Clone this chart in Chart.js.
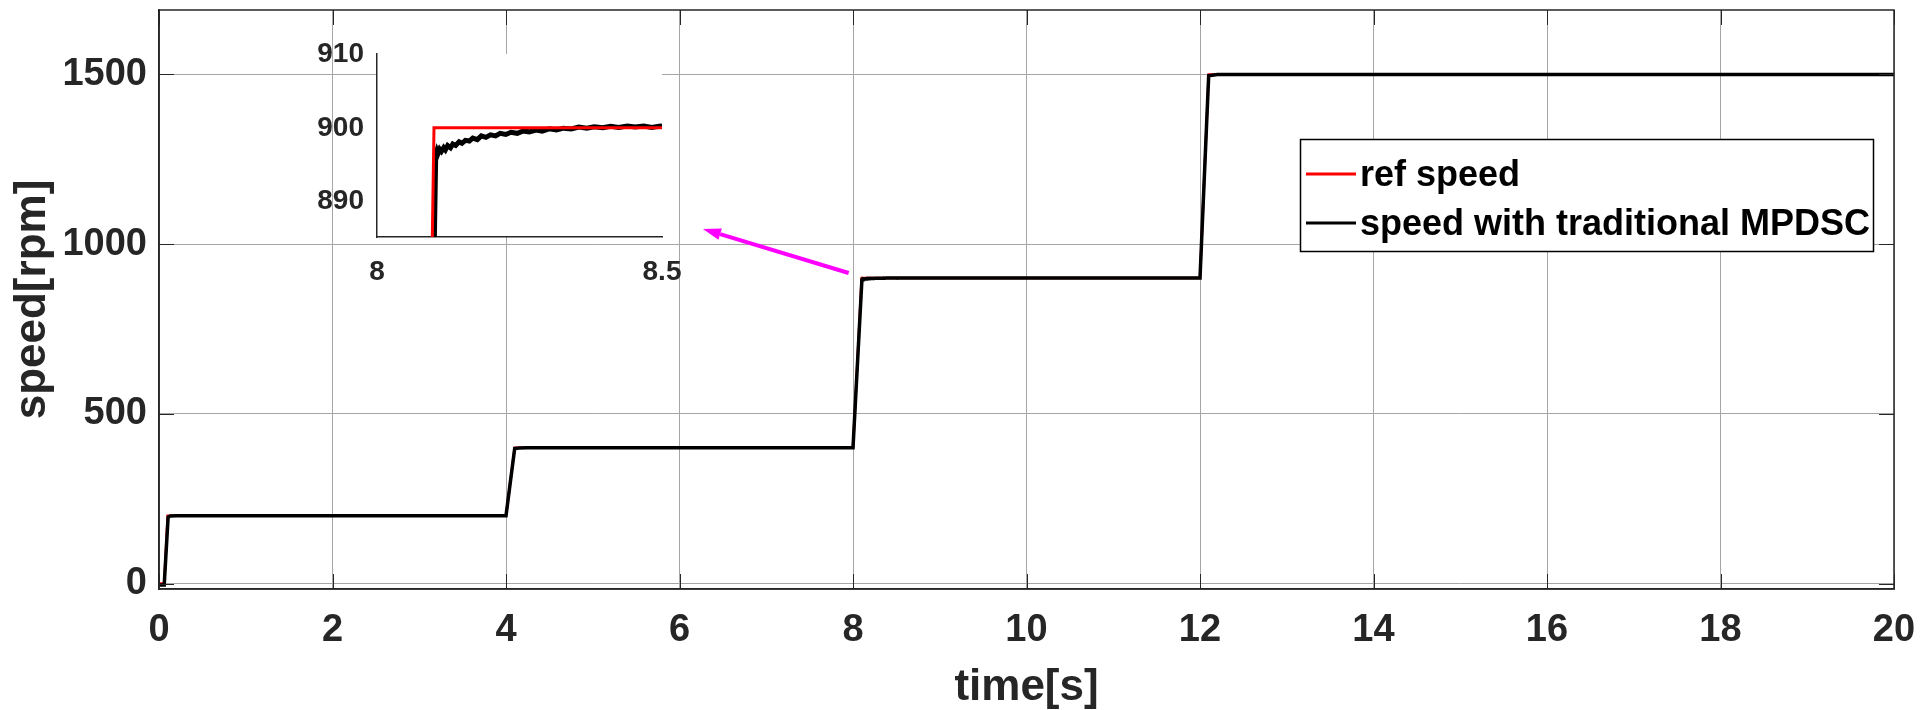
<!DOCTYPE html>
<html><head><meta charset="utf-8">
<script src="https://cdn.jsdelivr.net/npm/chart.js@4.4.0/dist/chart.umd.min.js"></script>
<style>
html,body{margin:0;padding:0;background:#fff;}
#wrap{position:relative;width:1920px;height:710px;overflow:hidden;}
#main{position:absolute;left:0;top:0;}
#inset{position:absolute;left:290px;top:30px;}
</style></head><body>
<div id="wrap"><canvas id="main" width="1920" height="710"></canvas><canvas id="inset" width="420" height="260"></canvas></div>
<script>
// ---- data ----
const refTime  = [0, 0.06, 0.1, 4.0, 4.1, 8.0, 8.1, 12.0, 12.1, 20];
const refSpeed = [0, 0, 200, 200, 400, 400, 900, 900, 1500, 1500];

const mpdscTime = [0, 0.06, 0.105, 0.13, 0.2, 4.0, 4.1, 4.15, 4.25, 8.0,
  8.103, 8.105, 8.107, 8.110, 8.113, 8.117, 8.120, 8.124, 8.129, 8.133,
  8.138, 8.144, 8.149, 8.155, 8.162, 8.168, 8.176, 8.183, 8.191, 8.199,
  8.208, 8.216, 8.226, 8.235, 8.246, 8.256, 8.267, 8.279, 8.290, 8.302,
  8.315, 8.327, 8.341, 8.354, 8.368, 8.381, 8.396, 8.410, 8.424, 8.439,
  8.453, 8.468, 8.482, 8.497, 8.5,
  12.0, 12.1, 12.2, 20];
const mpdscSpeed = [-4, -4, 196, 199, 200, 200, 398, 399.5, 400, 400,
  896.4, 896.9, 896.5, 897.1, 896.8, 897.3, 897.0, 897.6, 897.3, 897.8,
  897.6, 898.1, 897.9, 898.3, 898.2, 898.6, 898.4, 898.9, 898.7, 899.05,
  898.9, 899.25, 899.1, 899.4, 899.25, 899.55, 899.45, 899.7, 899.55, 899.85,
  899.7, 899.95, 899.85, 900.1, 899.95, 900.15, 900.0, 900.2, 900.05, 900.25,
  900.1, 900.25, 900.05, 900.25, 900.2,
  900, 1496, 1500, 1500];

const xTicks = [0, 2, 4, 6, 8, 10, 12, 14, 16, 18, 20];
const yTicks = [0, 500, 1000, 1500];
const insetXTicks = [8, 8.5];
const insetYTicks = [890, 900, 910];

const seriesLabels = ['ref speed', 'speed with traditional MPDSC'];
const arrowTail = {x: 7.95, y: 915};
const arrowHead = {x: 6.27, y: 1045};

// ---- style ----
const FONT = "'Liberation Sans', Arial, Helvetica, sans-serif";
const AX = '#262626';
const toPts = (xs, ys) => xs.map((x, i) => ({x: x, y: ys[i]}));
const plain = v => String(v);
const noPadY = s => { s.paddingTop = 0; s.paddingBottom = 0; };
const noPadX = s => { s.paddingLeft = 0; s.paddingRight = 0; };

const boxPlugin = {
  id: 'box',
  afterDraw(chart) {
    const {ctx, chartArea: a, scales} = chart;
    ctx.save();
    ctx.strokeStyle = AX;
    const L = 15;
    ctx.beginPath();
    scales.x.ticks.forEach(t => {
      const px = Math.round(scales.x.getPixelForValue(t.value)) + 0.5;
      ctx.moveTo(px, a.bottom); ctx.lineTo(px, a.bottom - L);
      ctx.moveTo(px, a.top); ctx.lineTo(px, a.top + L);
    });
    scales.y.ticks.forEach(t => {
      const py = Math.round(scales.y.getPixelForValue(t.value)) + 0.5;
      ctx.moveTo(a.left, py); ctx.lineTo(a.left + L, py);
      ctx.moveTo(a.right, py); ctx.lineTo(a.right - L, py);
    });
    ctx.lineWidth = 1;
    ctx.stroke();
    ctx.lineWidth = 1.5;
    ctx.strokeRect(a.left, a.top, a.right - a.left, a.bottom - a.top);

    // magenta arrow
    const x1 = scales.x.getPixelForValue(arrowTail.x), y1 = scales.y.getPixelForValue(arrowTail.y);
    const x2 = scales.x.getPixelForValue(arrowHead.x), y2 = scales.y.getPixelForValue(arrowHead.y);
    const ang = Math.atan2(y2 - y1, x2 - x1);
    const hl = 18, hw = 6;
    const bx = x2 - hl * Math.cos(ang), by = y2 - hl * Math.sin(ang);
    ctx.strokeStyle = '#ff00ff';
    ctx.fillStyle = '#ff00ff';
    ctx.lineWidth = 4;
    ctx.beginPath(); ctx.moveTo(x1, y1); ctx.lineTo(bx, by); ctx.stroke();
    ctx.beginPath();
    ctx.moveTo(x2, y2);
    ctx.lineTo(bx - hw * Math.sin(ang), by + hw * Math.cos(ang));
    ctx.lineTo(bx + hw * Math.sin(ang), by - hw * Math.cos(ang));
    ctx.closePath(); ctx.fill();

    // legend
    const lx = 1300, ly = 139, lw = 573, lh = 112;
    ctx.fillStyle = '#fff';
    ctx.fillRect(lx, ly, lw, lh);
    ctx.strokeStyle = '#000'; ctx.lineWidth = 1.5;
    ctx.strokeRect(lx + 0.5, ly + 0.5, lw, lh);
    ctx.font = 'bold 36px ' + FONT;
    ctx.textBaseline = 'middle';
    const rows = [ly + 35, ly + 84];
    [0, 1].forEach(i => {
      const ds = chart.data.datasets[i];
      ctx.strokeStyle = ds.borderColor; ctx.lineWidth = 3;
      ctx.beginPath(); ctx.moveTo(lx + 6, rows[i]); ctx.lineTo(lx + 56, rows[i]); ctx.stroke();
      ctx.fillStyle = '#000';
      ctx.fillText(ds.label, lx + 60, rows[i] + 2);
    });
    ctx.restore();
  }
};

new Chart(document.getElementById('main'), {
  type: 'line',
  data: {datasets: [
    {label: seriesLabels[0], data: toPts(refTime, refSpeed), borderColor: '#ff0000', borderWidth: 2.5, pointRadius: 0, tension: 0, order: 1},
    {label: seriesLabels[1], data: toPts(mpdscTime, mpdscSpeed), borderColor: '#000000', borderWidth: 3.5, pointRadius: 0, tension: 0, order: 0}
  ]},
  options: {
    animation: false, responsive: false, devicePixelRatio: 1,
    layout: {padding: {left: 0, right: 26, top: 10, bottom: 0}},
    plugins: {legend: {display: false}, tooltip: {enabled: false}},
    scales: {
      x: {
        type: 'linear', min: 0, max: 20,
        afterBuildTicks: s => { s.ticks = xTicks.map(v => ({value: v})); },
        afterFit: s => { s.height = 121; noPadX(s); },
        grid: {color: '#a6a6a6', lineWidth: 1, drawTicks: false},
        border: {display: true, color: AX, width: 1.5},
        ticks: {font: {family: FONT, size: 38, weight: 'bold'}, color: AX, padding: 19, maxRotation: 0, autoSkip: false, callback: plain},
        title: {display: true, text: 'time[s]', font: {family: FONT, size: 44, weight: 'bold', lineHeight: 1.0}, color: AX, padding: {top: 0, bottom: 0}}
      },
      y: {
        type: 'linear', min: -16, max: 1690,
        afterBuildTicks: s => { s.ticks = yTicks.map(v => ({value: v})); },
        afterFit: s => { s.width = 159; noPadY(s); },
        grid: {color: '#a6a6a6', lineWidth: 1, drawTicks: false},
        border: {display: true, color: AX, width: 1.5},
        ticks: {font: {family: FONT, size: 38, weight: 'bold'}, color: AX, padding: 12, callback: plain},
        title: {display: true, text: 'speed[rpm]', font: {family: FONT, size: 44, weight: 'bold'}, color: AX, padding: {top: 6, bottom: 0}}
      }
    }
  },
  plugins: [boxPlugin]
});

const insetBg = {
  id: 'insetBg',
  beforeDraw(chart) {
    const {ctx, chartArea: a} = chart;
    ctx.save(); ctx.fillStyle = '#fff';
    ctx.fillRect(a.left, a.top, a.right - a.left, a.bottom - a.top);
    ctx.restore();
  }
};

new Chart(document.getElementById('inset'), {
  type: 'line',
  data: {datasets: [
    {label: seriesLabels[0], data: toPts(refTime, refSpeed), borderColor: '#ff0000', borderWidth: 3, pointRadius: 0, tension: 0, order: 0},
    {label: seriesLabels[1], data: toPts(mpdscTime, mpdscSpeed), borderColor: '#000000', borderWidth: 5, pointRadius: 0, tension: 0, order: 1}
  ]},
  options: {
    animation: false, responsive: false, devicePixelRatio: 1,
    layout: {padding: {left: 0, right: 48, top: 24, bottom: 0}},
    plugins: {legend: {display: false}, tooltip: {enabled: false}},
    scales: {
      x: {
        type: 'linear', min: 8, max: 8.5,
        afterBuildTicks: s => { s.ticks = insetXTicks.map(v => ({value: v})); },
        afterFit: s => { s.height = 53; noPadX(s); },
        grid: {display: false, drawTicks: false},
        border: {display: true, color: AX, width: 1.5},
        ticks: {font: {family: FONT, size: 28, weight: 'bold'}, color: AX, padding: 18, maxRotation: 0, autoSkip: false, callback: plain}
      },
      y: {
        type: 'linear', min: 885.2, max: 910,
        afterBuildTicks: s => { s.ticks = insetYTicks.map(v => ({value: v})); },
        afterFit: s => { s.width = 87; noPadY(s); },
        grid: {display: false, drawTicks: false},
        border: {display: true, color: AX, width: 1.5},
        ticks: {font: {family: FONT, size: 28, weight: 'bold'}, color: AX, padding: 13, callback: plain}
      }
    }
  },
  plugins: [insetBg]
});
</script>
</body></html>
